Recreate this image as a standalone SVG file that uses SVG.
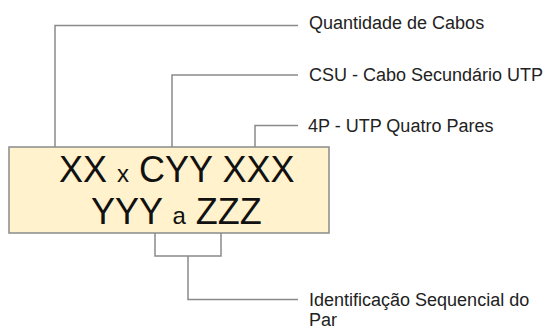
<svg xmlns="http://www.w3.org/2000/svg" width="550" height="329" viewBox="0 0 550 329">
<style>
.c{fill:none;stroke:#8a8a8a;stroke-width:1.5}
.lbl{font-family:"Liberation Sans",Arial,sans-serif;font-size:18px;fill:#222}
.big{font-family:"Liberation Sans",Arial,sans-serif;font-size:36px;fill:#111}
.sm{font-size:24px}
</style>
<rect width="550" height="329" fill="#fff"/>
<g id="connectors">
<polyline class="c" points="55,147 55,25.5 298,25.5"/>
<polyline class="c" points="172,147 172,75 298,75"/>
<polyline class="c" points="255,147 255,125.5 298,125.5"/>
<polyline class="c" points="155,233 155,256 221,256 221,233"/>
<polyline class="c" points="188,256 188,299.5 298,299.5"/>
</g>
<g id="code">
<rect x="9" y="147" width="320" height="86" fill="#fff2cc" stroke="#8a8a8a" stroke-width="1.5"/>
<text class="big" x="59" y="181.5">XX <tspan class="sm">x</tspan> CYY XXX</text>
<text class="big" x="91" y="223.5">YYY <tspan class="sm">a</tspan> ZZZ</text>
</g>
<g id="label-quantidade"><text class="lbl" x="309" y="29">Quantidade de Cabos</text></g>
<g id="label-csu"><text class="lbl" x="309" y="81">CSU - Cabo Secundário UTP</text></g>
<g id="label-4p"><text class="lbl" x="308" y="132">4P - UTP Quatro Pares</text></g>
<g id="label-id"><text class="lbl" x="309" y="306">Identificação Sequencial do<tspan x="309" y="326">Par</tspan></text></g>
</svg>
